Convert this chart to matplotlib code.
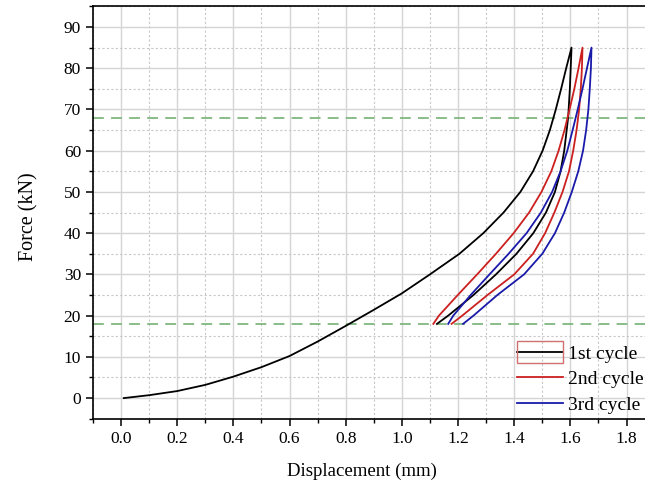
#============================================================
# plot.py  -- force vs displacement, three load cycles
#============================================================

import matplotlib
matplotlib.use('Agg')
import matplotlib.pyplot as plt
from matplotlib.ticker import MultipleLocator
from matplotlib.patches import Rectangle

#------------------------------------------------------------
# 1st cycle: loading then unloading
x1_load = [0.01, 0.1, 0.2, 0.3, 0.4, 0.5, 0.6, 0.7, 0.8, 0.9, 1.0, 1.1,
           1.205, 1.29, 1.362, 1.422, 1.467, 1.501, 1.527, 1.548, 1.567, 1.585, 1.604]
f1_load = [0, 0.7, 1.7, 3.2, 5.2, 7.5, 10.2, 13.7, 17.5, 21.4, 25.4, 30,
           35, 40, 45, 50, 55, 60, 65, 70, 75, 80, 85]
x1_unld = [1.604, 1.601, 1.598, 1.592, 1.578, 1.565, 1.545, 1.513, 1.468,
           1.408, 1.335, 1.255, 1.165, 1.125]
f1_unld = [85, 80, 75, 68, 60, 55, 50, 45, 40, 35, 30, 25, 20, 18]

# 2nd cycle
x2_load = [1.112, 1.132, 1.199, 1.268, 1.335, 1.398, 1.453, 1.497, 1.532, 1.558,
           1.579, 1.597, 1.614, 1.629, 1.643]
f2_load = [18, 20, 25, 30, 35, 40, 45, 50, 55, 60, 65, 70, 75, 80, 85]
x2_unld = [1.643, 1.641, 1.637, 1.631, 1.622, 1.61, 1.595, 1.572, 1.543, 1.51,
           1.467, 1.40, 1.305, 1.215, 1.177]
f2_unld = [85, 80, 75, 70, 65, 60, 55, 50, 45, 40, 35, 30, 25, 20, 18]

# 3rd cycle
x3_load = [1.165, 1.183, 1.245, 1.312, 1.38, 1.444, 1.495, 1.535, 1.565, 1.589,
           1.608, 1.626, 1.643, 1.659, 1.675]
f3_load = [18, 20, 25, 30, 35, 40, 45, 50, 55, 60, 65, 70, 75, 80, 85]
x3_unld = [1.675, 1.673, 1.669, 1.664, 1.656, 1.645, 1.628, 1.605, 1.578, 1.545,
           1.50, 1.435, 1.34, 1.255, 1.218]
f3_unld = [85, 80, 75, 70, 65, 60, 55, 50, 45, 40, 35, 30, 25, 20, 18]

f_limits = [18, 68]
labels = ['1st cycle', '2nd cycle', '3rd cycle']

#------------------------------------------------------------
plt.rcParams['font.family'] = ['Liberation Serif', 'DejaVu Serif']

fig = plt.figure(figsize=(6.45, 4.88), dpi=100)
ax = fig.add_axes([0.144, 0.142, 0.871, 0.845])

ax.set_xlim(-0.1, 1.9)
ax.set_ylim(-5, 95)
ax.xaxis.set_major_locator(MultipleLocator(0.2))
ax.xaxis.set_minor_locator(MultipleLocator(0.1))
ax.yaxis.set_major_locator(MultipleLocator(10))
ax.yaxis.set_minor_locator(MultipleLocator(5))

ax.grid(True, which='major', color='#d4d4d4', lw=1.0, ls='-')
ax.grid(True, which='minor', color='#c8c8c8', lw=0.8, ls=(0, (2, 2)))
ax.set_axisbelow(True)

for fl in f_limits:
    ax.axhline(fl, color='#7fb77f', lw=1.3, ls=(0, (6, 4)))

lb, = ax.plot(x1_load + x1_unld, f1_load + f1_unld, color='black', lw=1.3)
lr, = ax.plot(x2_load + x2_unld, f2_load + f2_unld, color='#cc2020', lw=1.3)
lu, = ax.plot(x3_load + x3_unld, f3_load + f3_unld, color='#1a1aaa', lw=1.3)

leg = ax.legend([lb, lr, lu], labels, loc='upper left', bbox_to_anchor=(0.755, 0.178),
                frameon=False, fontsize=14, handlelength=2.37, handletextpad=0.26,
                labelspacing=0.4, borderaxespad=0, borderpad=0)

ax.spines['right'].set_visible(False)
for s in ['left', 'bottom', 'top']:
    ax.spines[s].set_linewidth(1.2)

ax.tick_params(which='both', direction='out', top=False, right=False)
ax.tick_params(which='major', length=5, width=1.1, labelsize=12.5)
ax.tick_params(which='minor', length=3, width=1.0)

ax.set_xlabel('Displacement (mm)', fontsize=13.5)
ax.set_ylabel('Force (kN)', fontsize=14.5)
ax.xaxis.set_label_coords(0.479, -0.106)
ax.yaxis.set_label_coords(-0.096, 0.49)

# thin reddish box round the first legend key
fig.canvas.draw()
bb = leg.legend_handles[0].get_window_extent()
cy = bb.y0 + bb.height / 2
fig.add_artist(Rectangle((bb.x0, cy - 11), bb.width, 22, fill=False,
                         ec='#d07070', lw=1.0, transform=None))

fig.savefig('out.png', dpi=100)
